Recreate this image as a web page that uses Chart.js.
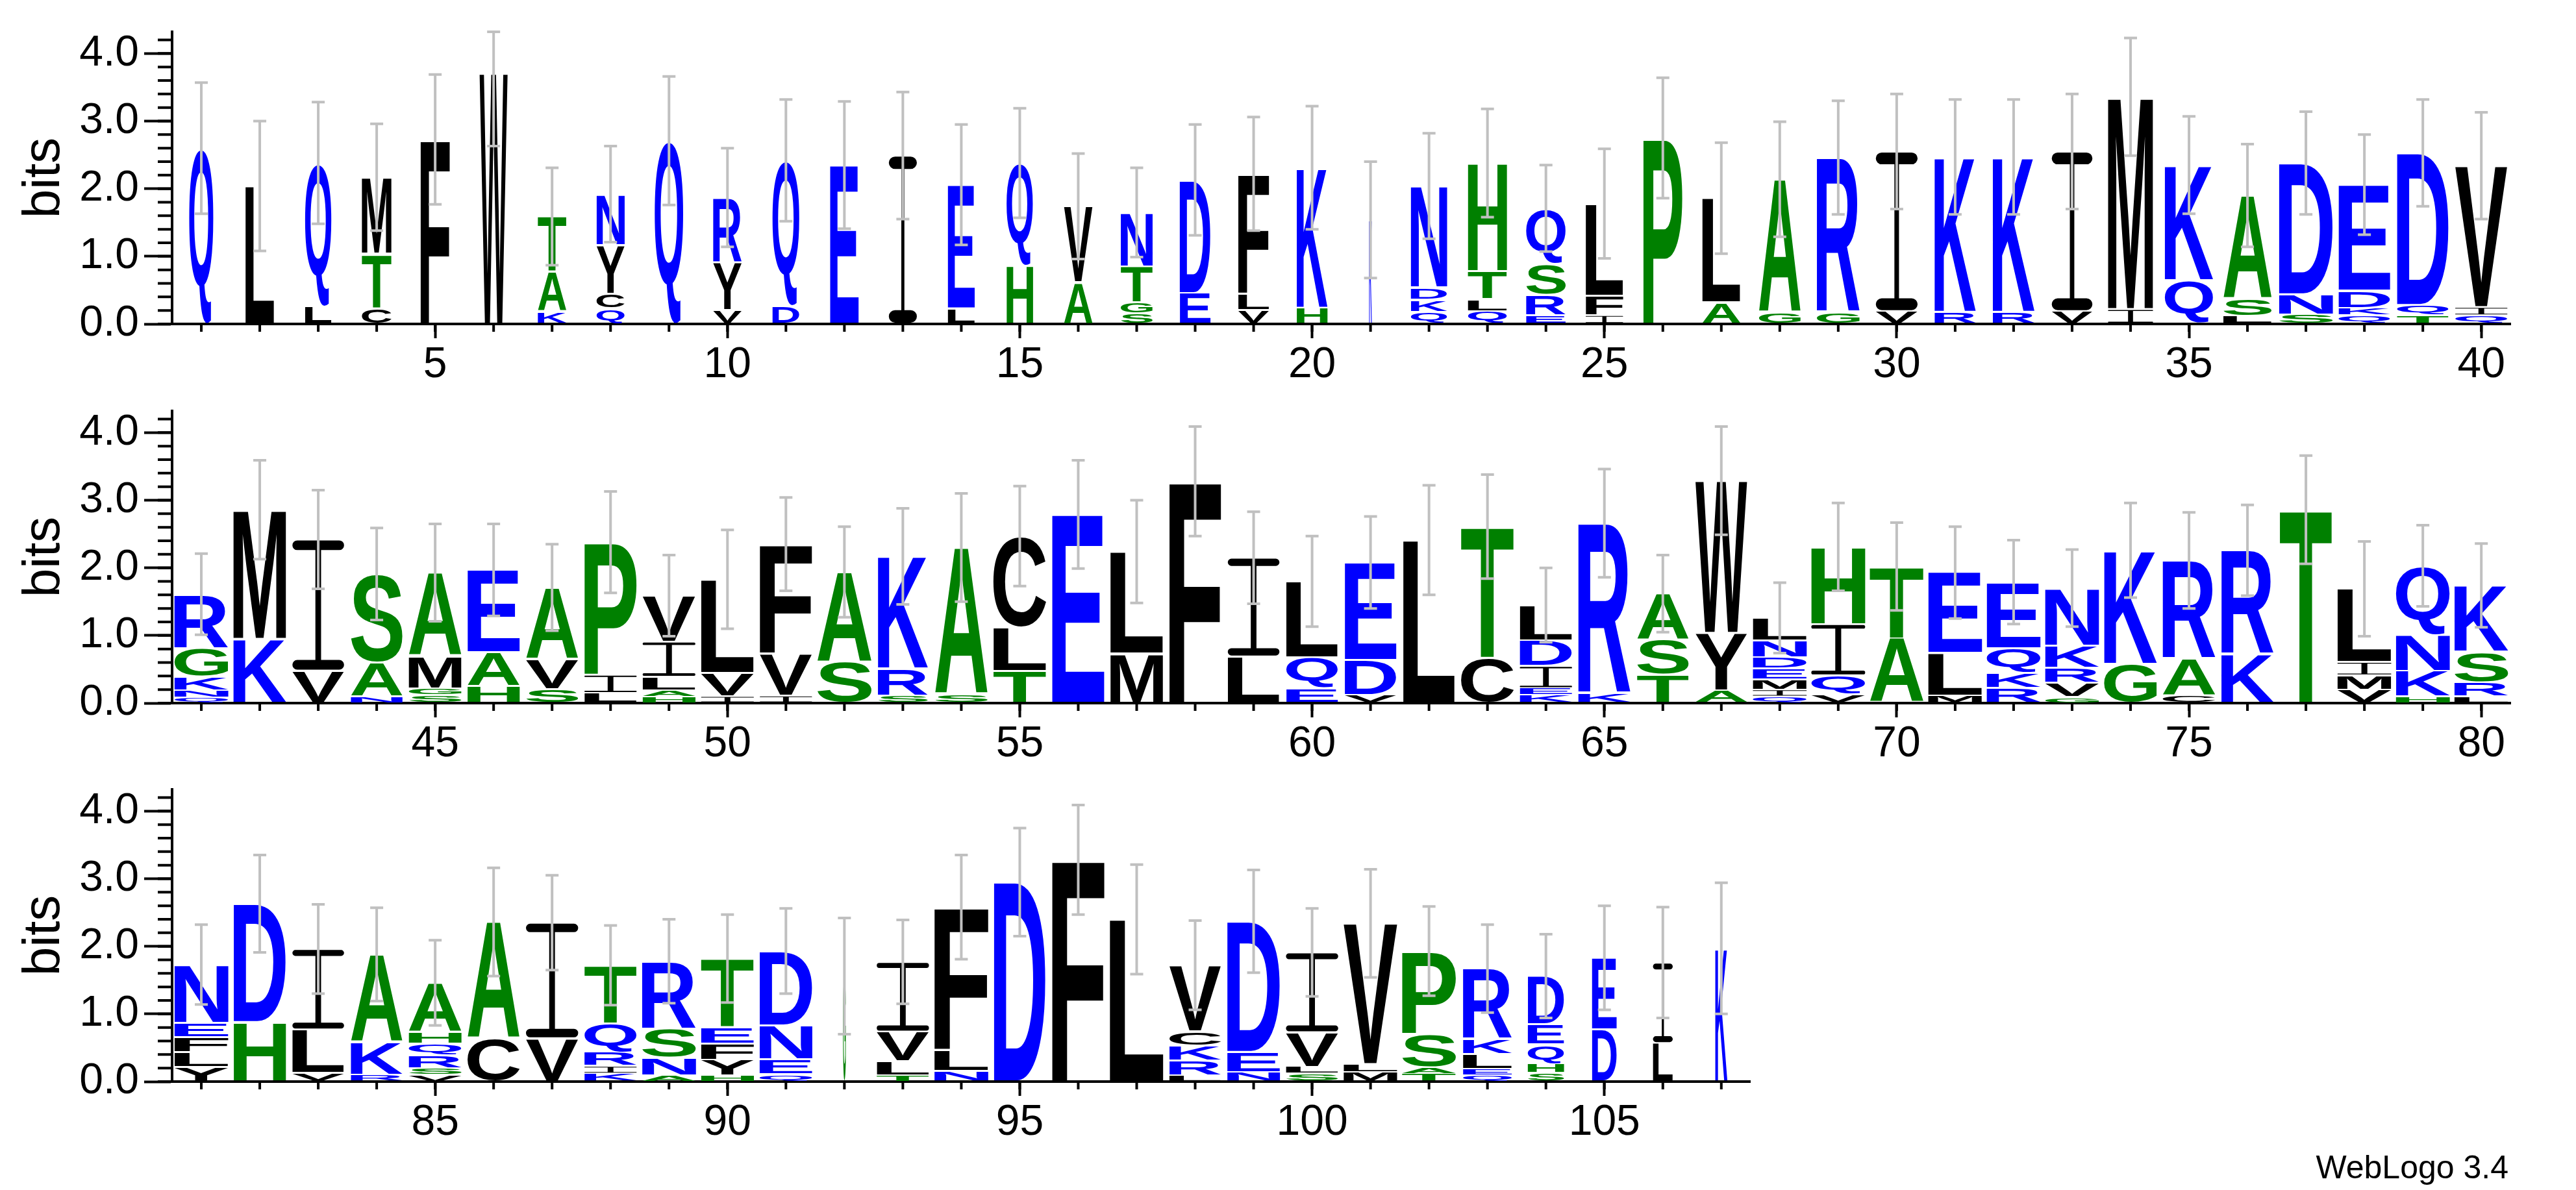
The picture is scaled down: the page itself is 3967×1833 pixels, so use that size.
<!DOCTYPE html>
<html>
<head>
<meta charset="utf-8">
<script src="https://cdn.jsdelivr.net/npm/chart.js@4.4.1/dist/chart.umd.min.js"></script>
<style>
  html, body { margin: 0; padding: 0; background: #fff; }
  body { width: 3967px; height: 1833px; position: relative; overflow: hidden; }
  canvas { position: absolute; left: 0; }
  #credit { position: absolute; right: 104px; top: 1773px; font: 50px "Liberation Sans", Arial, sans-serif; line-height: 1; color: #000; }
</style>
</head>
<body>
<canvas id="row1" width="3967" height="590" style="top:0px"></canvas>
<canvas id="row2" width="3967" height="590" style="top:584px"></canvas>
<canvas id="row3" width="3967" height="590" style="top:1167px"></canvas>
<div id="credit">WebLogo 3.4</div>
<script>
// rows of the logo: first position and number of positions
const rowStarts = [1, 41, 81];
const rowLengths = [40, 40, 27];

// letters of each stack, bottom to top
const stackLetters = [
  'Q','L','LQ','CTM','F','W','KAT','QCYN','Q','VYR',
  'DQ','E','I','LE','HQ','AV','SGTN','ED','VLF','HK',
  'K','QKDN','QLTH','ERSQ','IFL','P','AL','GA','GR','VI',
  'RK','RK','VI','IM','QK','LSA','SND','QKDE','TQD','QIV',
  'QNKGR','KM','VI','NAS','SGMA','HAE','SVA','LIP','HALIV','IVL',
  'IVF','SA','SRK','SA','TLC','E','ML','F','LI','EQL',
  'VDE','L','CT','KEIDL','KR','TSA','AYW','QIMEDNL','VQIH','AT',
  'MLE','RKQE','GVRKN','GK','CAR','KR','T','VMIL','HKNQ','LRSK',
  'YLFEN','HD','VLI','RKA','VSRQHA','CA','VI','KIRQT','ANSR','HYFET',
  'QEND','G','TLVI','NLF','D','F','L','LRKCV','NED','SLVI',
  'MLV','TASP','QELKR','SHQED','DE','LI','K'
];

// height of each letter in bits, same order
const stackBits = [
  [2.60],[2.04],[0.26,2.12],[0.24,0.80,1.13],[2.73],[3.71],[0.18,0.59,0.82],[0.23,0.22,0.72,0.75],[2.71],[0.21,0.70,0.96],
  [0.27,2.15],[2.35],[2.49],[0.23,1.83],[0.86,1.52],[0.62,1.12],[0.16,0.16,0.53,0.80],[0.46,1.67],[0.21,0.24,1.77],[0.24,2.07],
  [1.54],[0.18,0.18,0.18,1.50],[0.19,0.18,0.41,1.60],[0.13,0.30,0.46,0.82],[0.13,0.29,1.36],[2.75],[0.32,1.54],[0.17,1.97],[0.17,2.29],[0.19,2.36],
  [0.18,2.29],[0.18,2.29],[0.19,2.36],[0.22,3.14],[0.65,1.70],[0.12,0.25,1.53],[0.14,0.30,1.94],[0.13,0.11,0.25,1.57],[0.13,0.15,2.25],[0.13,0.12,2.09],
  [0.09,0.10,0.20,0.42,0.80],[0.95,1.91],[0.48,1.94],[0.10,0.50,1.31],[0.12,0.10,0.48,1.23],[0.25,0.50,1.22],[0.21,0.44,1.06],[0.15,0.27,1.96],[0.10,0.09,0.20,0.52,0.68],[0.10,0.35,1.38],
  [0.11,0.62,1.62],[0.61,1.33],[0.11,0.40,1.66],[0.13,2.17],[0.48,0.64,1.35],[2.79],[0.73,1.51],[3.28],[0.69,1.46],[0.22,0.46,1.12],
  [0.12,0.52,1.44],[2.41],[0.67,1.94],[0.12,0.10,0.33,0.38,0.52],[0.14,2.52],[0.42,0.52,0.68],[0.19,0.85,2.25],[0.10,0.10,0.15,0.16,0.17,0.25,0.33],[0.13,0.28,0.76,1.14],[0.96,1.06],
  [0.11,0.63,1.19],[0.23,0.22,0.36,0.98],[0.09,0.21,0.22,0.33,0.85],[0.58,1.68],[0.11,0.55,1.45],[0.72,1.54],[2.86],[0.20,0.21,0.20,1.08],[0.10,0.38,0.53,1.02],[0.10,0.21,0.45,0.98],
  [0.22,0.22,0.22,0.21,0.86],[0.88,1.75],[0.13,0.64,1.19],[0.10,0.49,1.29],[0.10,0.10,0.19,0.17,0.18,0.72],[0.64,1.72],[0.64,1.71],[0.12,0.11,0.21,0.42,0.86],[0.09,0.26,0.43,1.00],[0.09,0.23,0.24,0.24,1.02],
  [0.11,0.22,0.50,1.10],[1.56],[0.09,0.21,0.44,1.03],[0.16,0.31,2.11],[2.95],[3.28],[2.40],[0.09,0.22,0.22,0.21,0.98],[0.14,0.30,1.93],[0.12,0.10,0.51,1.18],
  [0.14,0.12,2.08],[0.12,0.09,0.50,1.22],[0.10,0.09,0.22,0.22,1.04],[0.13,0.13,0.29,0.30,0.71],[0.77,1.06],[0.57,1.19],[1.97]
];

// fraction of sequences with a residue (stack width)
const occupancy = [
  0.44,0.52,0.48,0.54,0.53,0.51,0.52,0.51,0.52,0.52,
  0.49,0.52,0.51,0.49,0.48,0.52,0.58,0.56,0.56,0.56,
  0.05,0.66,0.71,0.72,0.68,0.71,0.69,0.76,0.78,0.76,
  0.75,0.76,0.74,0.82,0.88,0.88,0.98,0.94,0.94,0.95,
  0.98,0.96,0.94,0.94,0.96,0.95,0.95,0.95,0.96,0.96,
  0.95,0.99,0.91,0.96,0.96,0.95,0.96,0.94,0.94,0.94,
  0.94,0.94,0.96,0.95,0.95,0.94,0.94,0.98,0.98,0.98,
  0.98,0.98,0.98,0.96,0.96,0.95,0.95,0.98,0.98,0.98,
  0.98,0.95,0.94,0.94,0.96,0.95,0.95,0.95,0.98,0.96,
  0.96,0.05,0.95,0.98,0.94,0.95,0.98,0.94,0.96,0.95,
  0.98,0.98,0.89,0.66,0.45,0.36,0.22
];

// error bar half-length in bits
const errorBits = [
  0.97,0.96,0.90,0.79,0.96,1.08,0.72,0.71,0.95,0.73,
  0.90,0.94,0.94,0.89,0.81,0.78,0.66,0.82,0.84,0.91,
  0.86,0.78,0.80,0.64,0.81,0.89,0.82,0.85,0.84,0.85,
  0.85,0.85,0.85,0.87,0.72,0.76,0.76,0.74,0.79,0.79,
  0.60,0.73,0.73,0.68,0.72,0.68,0.64,0.75,0.60,0.73,
  0.69,0.67,0.71,0.80,0.74,0.80,0.76,0.81,0.68,0.67,
  0.68,0.81,0.77,0.55,0.80,0.57,0.80,0.52,0.65,0.65,
  0.68,0.62,0.57,0.70,0.71,0.67,0.80,0.70,0.60,0.62,
  0.59,0.72,0.66,0.69,0.63,0.80,0.70,0.59,0.62,0.65,
  0.63,0.86,0.62,0.77,0.80,0.81,0.81,0.66,0.76,0.65,
  0.80,0.66,0.65,0.62,0.77,0.82,0.97
];

const yMax = 4.32;           // log2(20)
const blueLetters = 'QNDEKR';
const greenLetters = 'AGSTHP';

function letterColor(ch) {
  if (blueLetters.includes(ch)) return '#0000ff';
  if (greenLetters.includes(ch)) return '#008000';
  return '#000000';
}

function drawI(ctx, x0, top, w, h) {
  const barH = Math.max(h * 0.075, 1);
  const stemW = Math.max(w * 0.11, 1);
  ctx.beginPath();
  ctx.roundRect(x0, top, w, barH, barH / 2);
  ctx.roundRect(x0, top + h - barH, w, barH, barH / 2);
  ctx.rect(x0 + w / 2 - stemW / 2, top, stemW, h);
  ctx.fill();
}

const logoPlugin = {
  id: 'logo',
  afterDatasetsDraw(chart) {
    const ctx = chart.ctx;
    const first = chart.options.plugins.logo.first;
    const xs = chart.scales.x, ys = chart.scales.y;
    ctx.save();
    ctx.font = 'bold 200px "Liberation Sans"';
    ctx.textAlign = 'left';
    ctx.textBaseline = 'alphabetic';
    chart.data.datasets.forEach((ds, k) => {
      chart.getDatasetMeta(k).data.forEach((bar, j) => {
        const p = first + j;
        const ch = stackLetters[p][k];
        if (!ch) return;
        const {x, y, base, width} = bar.getProps(['x', 'y', 'base', 'width'], true);
        const w = width * 0.94 * occupancy[p];
        let top = Math.min(y, base);
        let h = Math.abs(base - y);
        const gap = Math.min(1.5, h * 0.1);
        top += gap;
        h -= 2 * gap;
        if (h <= 0.3) return;
        ctx.fillStyle = letterColor(ch);
        if (ch === 'I') {
          drawI(ctx, x - w / 2, top, w, h);
          return;
        }
        const m = ctx.measureText(ch);
        const gw = m.actualBoundingBoxLeft + m.actualBoundingBoxRight;
        const gh = m.actualBoundingBoxAscent + m.actualBoundingBoxDescent;
        ctx.save();
        ctx.translate(x - w / 2, top);
        ctx.scale(w / gw, h / gh);
        ctx.fillText(ch, m.actualBoundingBoxLeft, m.actualBoundingBoxAscent);
        ctx.restore();
      });
    });

    // error bars
    ctx.strokeStyle = '#c0c0c0';
    ctx.lineWidth = 4;
    const n = chart.data.labels.length;
    for (let j = 0; j < n; j++) {
      const p = first + j;
      const total = stackBits[p].reduce((a, b) => a + b, 0);
      const x = xs.getPixelForValue(j);
      const yT = ys.getPixelForValue(Math.min(total + errorBits[p], yMax));
      const yB = ys.getPixelForValue(Math.max(total - errorBits[p], 0));
      ctx.beginPath();
      ctx.moveTo(x, yT); ctx.lineTo(x, yB);
      ctx.moveTo(x - 10, yT); ctx.lineTo(x + 10, yT);
      ctx.moveTo(x - 10, yB); ctx.lineTo(x + 10, yB);
      ctx.stroke();
    }
    ctx.restore();
  },
  afterDraw(chart) {
    // minor ticks
    const ctx = chart.ctx;
    const xs = chart.scales.x, ys = chart.scales.y;
    const area = chart.chartArea;
    ctx.save();
    ctx.strokeStyle = '#000';
    ctx.lineWidth = 4;
    ctx.beginPath();
    for (let k = 0; k <= 21; k++) {
      const y = ys.getPixelForValue(k * 0.2);
      ctx.moveTo(area.left - 22, y); ctx.lineTo(area.left, y);
    }
    for (let j = 0; j < chart.data.labels.length; j++) {
      const x = xs.getPixelForValue(j);
      ctx.moveTo(x, area.bottom); ctx.lineTo(x, area.bottom + 12);
    }
    ctx.stroke();
    ctx.restore();
  }
};

function makeRow(canvasId, r) {
  const first = rowStarts[r] - 1;
  const count = rowLengths[r];
  const labels = [];
  for (let j = 0; j < count; j++) labels.push(String(rowStarts[r] + j));

  const depth = Math.max(...stackBits.slice(first, first + count).map(s => s.length));
  const datasets = [];
  for (let k = 0; k < depth; k++) {
    datasets.push({
      label: 'layer ' + k,
      data: stackBits.slice(first, first + count).map(s => s[k] || 0),
      backgroundColor: 'rgba(0,0,0,0)',
      borderWidth: 0,
      barPercentage: 1,
      categoryPercentage: 1
    });
  }

  const rightEdge = 265 + count * 90.03;

  new Chart(document.getElementById(canvasId), {
    type: 'bar',
    data: { labels: labels, datasets: datasets },
    plugins: [logoPlugin],
    options: {
      responsive: false,
      animation: false,
      layout: { padding: { top: 49, right: 3967 - rightEdge, left: 0, bottom: 0 } },
      plugins: {
        legend: { display: false },
        tooltip: { enabled: false },
        logo: { first: first }
      },
      scales: {
        x: {
          stacked: true,
          grid: {
            offset: false,
            drawOnChartArea: false,
            tickLength: 22,
            tickWidth: 4,
            tickColor: ctx => (Number(labels[ctx.index]) % 5 === 0 ? '#000' : 'rgba(0,0,0,0)')
          },
          border: { display: true, color: '#000', width: 4 },
          ticks: {
            autoSkip: false,
            maxRotation: 0,
            minRotation: 0,
            padding: 2,
            color: '#000',
            font: { family: 'Liberation Sans', size: 66 },
            callback: (v, i) => (Number(labels[i]) % 5 === 0 ? labels[i] : '')
          },
          afterFit: scale => { scale.height = 91; }
        },
        y: {
          stacked: true,
          min: 0,
          max: yMax,
          grid: {
            drawOnChartArea: false,
            tickLength: 43,
            tickWidth: 4,
            tickColor: '#000'
          },
          border: { display: true, color: '#000', width: 4 },
          ticks: {
            stepSize: 1,
            includeBounds: false,
            padding: 8,
            color: '#000',
            font: { family: 'Liberation Sans', size: 66 },
            callback: v => Number(v).toFixed(1)
          },
          title: {
            display: true,
            text: 'bits',
            color: '#000',
            font: { family: 'Liberation Sans', size: 80 },
            padding: { top: 21, bottom: 0 }
          },
          afterFit: scale => { scale.width = 265; }
        }
      }
    }
  });
}

makeRow('row1', 0);
makeRow('row2', 1);
makeRow('row3', 2);
</script>
</body>
</html>
